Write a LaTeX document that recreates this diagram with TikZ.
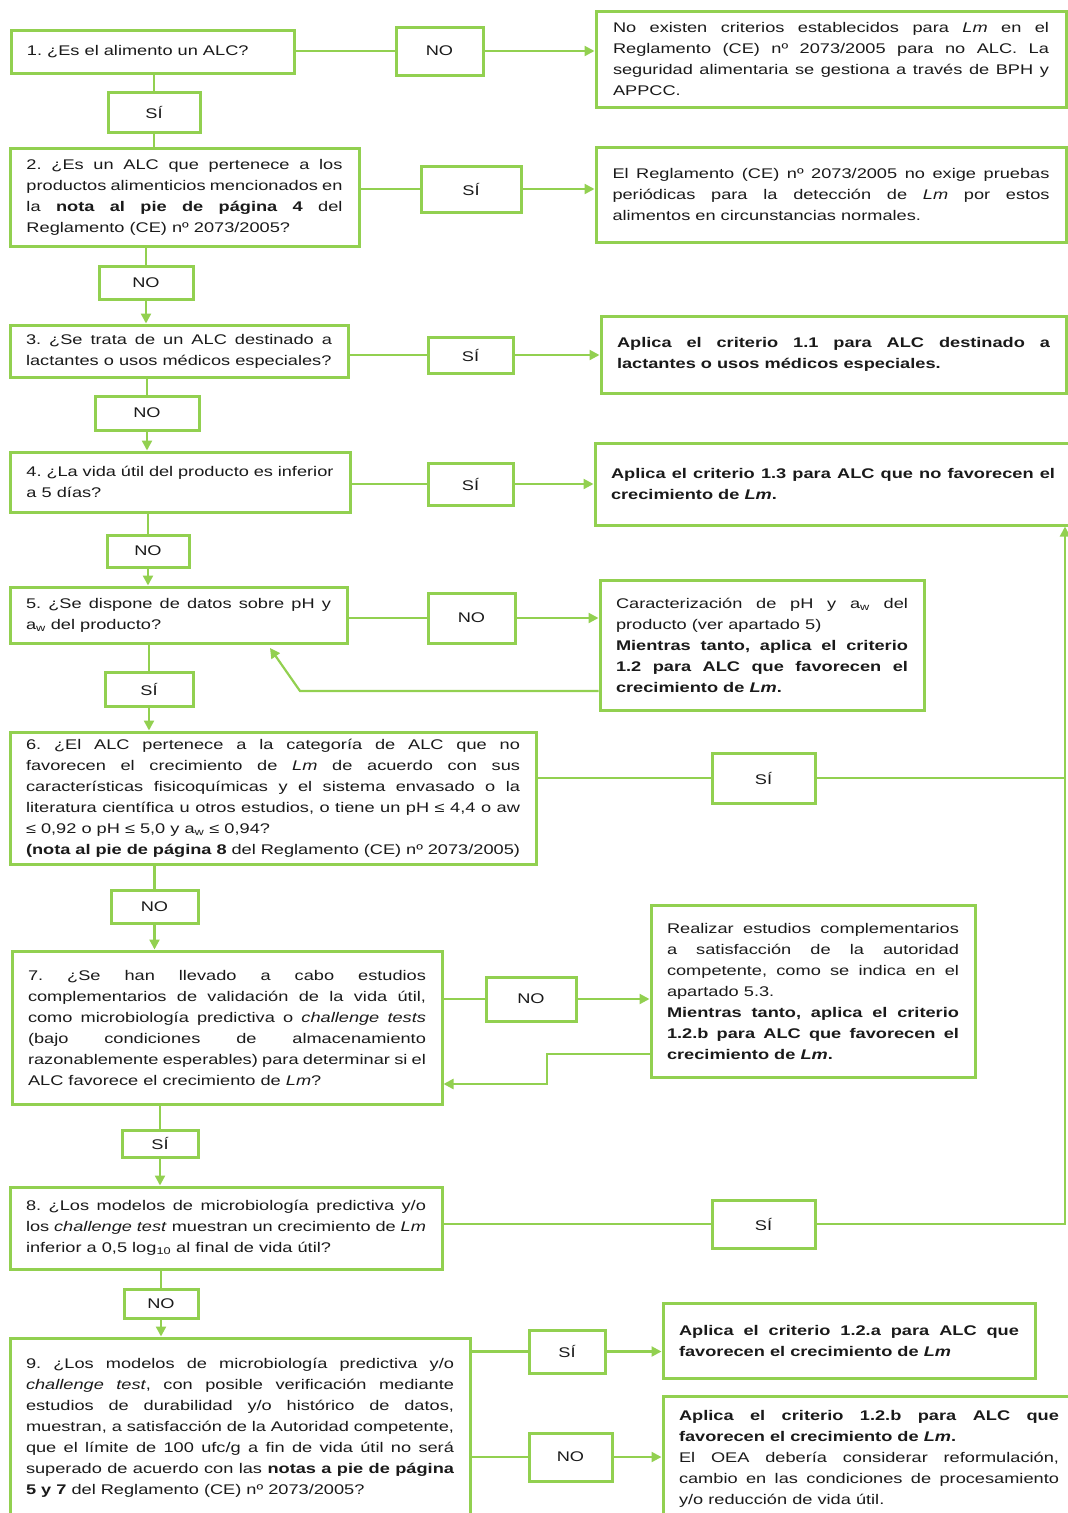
\documentclass[tikz,border=0pt]{standalone}
\usepackage{fontspec}
\setmainfont[FakeStretch=1.3]{Liberation Sans}
\usetikzlibrary{arrows.meta}
\definecolor{lg}{HTML}{92D050}
\definecolor{tx}{HTML}{1A1A1A}
\hyphenpenalty=10000
\exhyphenpenalty=10000
\tolerance=9999
\emergencystretch=20pt
\frenchspacing
\newcommand\fs{\fontsize{14}{21}\selectfont\frenchspacing\hyphenpenalty=10000\exhyphenpenalty=10000\tolerance=9999}
\tikzset{
  box/.style n args={3}{draw=lg, line width=3pt, fill=white, text=tx, inner sep=0pt,
    align=justify, font=\fs, minimum width=#1pt, minimum height=#2pt, text width=#3pt},
  lab/.style n args={2}{draw=lg, line width=3pt, fill=white, text=tx, inner sep=0pt,
    font=\fs, minimum width=#1pt, minimum height=#2pt},
  conn/.style={draw=lg, line width=2.2pt},
  arr/.style={conn, -{Triangle[length=10pt,width=10pt]}}
}
\begin{document}
\begin{tikzpicture}[x=1pt,y=-1pt]
\useasboundingbox (0,0) rectangle (1068,1513);
% ---------- question boxes ----------
\node[box={283}{43}{251}] (Q1) at (152.5,51.5) {1. ¿Es el alimento un ALC?};
\node[box={349}{98}{316}] (Q2) at (184.5,197) {2. ¿Es un ALC que pertenece a los productos alimenticios mencionados en la \textbf{nota al pie de página 4} del Reglamento (CE) nº 2073/2005?};
\node[box={338}{52}{306}] (Q3) at (179,351) {3. ¿Se trata de un ALC destinado a lactantes o usos médicos especiales?};
\node[box={340}{60}{307}] (Q4) at (180,482) {4. ¿La vida útil del producto es inferior a 5 días?};
\node[box={337}{56}{305}] (Q5) at (178.5,615) {5. ¿Se dispone de datos sobre pH y\linebreak a\textsubscript{w} del producto?};
\node[box={526}{132}{494}] (Q6) at (273,798) {6. ¿El ALC pertenece a la categoría de ALC que no\linebreak favorecen el crecimiento de \textit{Lm} de acuerdo con sus\linebreak características fisicoquímicas y el sistema envasado o la\linebreak literatura científica u otros estudios, o tiene un pH ≤ 4,4 o aw\linebreak ≤ 0,92 o pH ≤ 5,0 y a\textsubscript{w} ≤ 0,94?\par \textbf{(nota al pie de página 8} del Reglamento (CE) nº 2073/2005)};
\node[box={430}{153}{398}] (Q7) at (227,1027.5) {7. ¿Se han llevado a cabo estudios\linebreak complementarios de validación de la vida útil,\linebreak como microbiología predictiva o \textit{challenge tests}\linebreak (bajo condiciones de almacenamiento\linebreak razonablemente esperables) para determinar si el\linebreak ALC favorece el crecimiento de \textit{Lm}?};
\node[box={432}{82}{400}] (Q8) at (226,1228) {8. ¿Los modelos de microbiología predictiva y/o los \textit{challenge test} muestran un crecimiento de \textit{Lm} inferior a 0,5 log\textsubscript{10} al final de vida útil?};
\node[box={460}{180}{428}] (Q9) at (240,1428) {9. ¿Los modelos de microbiología predictiva y/o \textit{challenge test}, con posible verificación mediante estudios de durabilidad y/o histórico de datos, muestran, a satisfacción de la Autoridad competente, que el límite de 100 ufc/g a fin de vida útil no será superado de acuerdo con las \textbf{notas a pie de página 5 y 7} del Reglamento (CE) nº 2073/2005?};
% ---------- result boxes ----------
\node[box={470}{96}{436}] (R1) at (831,59) {No existen criterios establecidos para \textit{Lm} en el Reglamento (CE) nº 2073/2005 para no ALC. La seguridad alimentaria se gestiona a través de BPH y APPCC.};
\node[box={470}{95}{437}] (R2) at (831,194.5) {El Reglamento (CE) nº 2073/2005 no exige pruebas\linebreak periódicas para la detección de \textit{Lm} por estos\linebreak alimentos en circunstancias normales.};
\node[box={465}{77}{433}] (R3) at (833.5,354.5) {\textbf{Aplica el criterio 1.1 para ALC destinado a lactantes o usos médicos especiales.}};
\node[box={476}{82}{444}] (R4) at (833,484) {\textbf{Aplica el criterio 1.3 para ALC que no favorecen el crecimiento de \textit{Lm}.}};
\node[box={324}{130}{292}] (R5) at (762,645) {Caracterización de pH y a\textsubscript{w} del producto (ver apartado 5)\par \textbf{Mientras tanto, aplica el criterio 1.2 para ALC que favorecen el crecimiento de \textit{Lm}.}};
\node[box={324}{172}{292}] (R7) at (813,991) {Realizar estudios complementarios a satisfacción de la autoridad competente, como se indica en el apartado 5.3.\par \textbf{Mientras tanto, aplica el criterio 1.2.b para ALC que favorecen el crecimiento de \textit{Lm}.}};
\node[box={372}{75}{340}] (R9a) at (849,1340.5) {\textbf{Aplica el criterio 1.2.a para ALC que favorecen el crecimiento de \textit{Lm}}};
\node[box={412}{126}{380}] (R9b) at (869,1459) {\textbf{Aplica el criterio 1.2.b para ALC que favorecen el crecimiento de \textit{Lm}.}\par El OEA debería considerar reformulación, cambio en las condiciones de procesamiento y/o reducción de vida útil.};
% ---------- labels ----------
\node[lab={87}{48}] (NO1) at (439.5,51) {NO};
\node[lab={92}{40}] (SI1) at (154,112) {SÍ};
\node[lab={100}{46}] (SI2) at (471,189) {SÍ};
\node[lab={94}{33}] (NO2) at (146,282.5) {NO};
\node[lab={85}{36}] (SI3) at (470.5,355) {SÍ};
\node[lab={104}{34}] (NO3) at (147,413) {NO};
\node[lab={85}{42}] (SI4) at (470.5,484) {SÍ};
\node[lab={82}{32}] (NO4) at (148,551) {NO};
\node[lab={87}{50}] (NO5) at (471.5,618) {NO};
\node[lab={88}{34}] (SI5) at (149,689) {SÍ};
\node[lab={103}{50}] (SI6) at (763.5,778) {SÍ};
\node[lab={87}{33}] (NO6) at (154.5,906.5) {NO};
\node[lab={90}{44}] (NO7) at (531,999) {NO};
\node[lab={76}{27}] (SI7) at (160,1143.5) {SÍ};
\node[lab={103}{48}] (SI8) at (763.5,1224) {SÍ};
\node[lab={74}{29}] (NO8) at (161,1304) {NO};
\node[lab={76}{43}] (SI9) at (567,1351.5) {SÍ};
\node[lab={83}{48}] (NO9) at (570.5,1457) {NO};
% ---------- helper coordinates ----------
\coordinate (k5) at (300,691);
\coordinate (t5) at (270,648);
\coordinate (rv) at (1065,778);
\coordinate (k7a) at (547,1054);
\coordinate (k7b) at (547,1084);
% ---------- connectors ----------
\draw[conn] (Q1.east |- NO1.west) -- (NO1.west);
\draw[arr] (NO1.east) -- (NO1.east -| R1.west);
\draw[conn] (SI1.north) -- (SI1.north |- Q1.south);
\draw[conn] (SI1.south) -- (SI1.south |- Q2.north);
\draw[conn] (Q2.east |- SI2.west) -- (SI2.west);
\draw[arr] (SI2.east) -- (SI2.east -| R2.west);
\draw[conn] (NO2.north) -- (NO2.north |- Q2.south);
\draw[arr] (NO2.south) -- (NO2.south |- Q3.north);
\draw[conn] (Q3.east |- SI3.west) -- (SI3.west);
\draw[arr] (SI3.east) -- (SI3.east -| R3.west);
\draw[conn] (NO3.north) -- (NO3.north |- Q3.south);
\draw[arr] (NO3.south) -- (NO3.south |- Q4.north);
\draw[conn] (Q4.east |- SI4.west) -- (SI4.west);
\draw[arr] (SI4.east) -- (SI4.east -| R4.west);
\draw[conn] (NO4.north) -- (NO4.north |- Q4.south);
\draw[arr] (NO4.south) -- (NO4.south |- Q5.north);
\draw[conn] (Q5.east |- NO5.west) -- (NO5.west);
\draw[arr] (NO5.east) -- (NO5.east -| R5.west);
\draw[arr] (R5.west |- k5) -- (k5) -- (t5);
\draw[conn] (SI5.north) -- (SI5.north |- Q5.south);
\draw[arr] (SI5.south) -- (SI5.south |- Q6.north);
\draw[conn] (Q6.east |- SI6.west) -- (SI6.west);
\draw[arr] (SI6.east) -- (rv) -- (rv |- R4.south);
\draw[conn] (NO6.north) -- (NO6.north |- Q6.south);
\draw[arr] (NO6.south) -- (NO6.south |- Q7.north);
\draw[conn] (Q7.east |- NO7.west) -- (NO7.west);
\draw[arr] (NO7.east) -- (NO7.east -| R7.west);
\draw[arr] (R7.west |- k7a) -- (k7a) -- (k7b) -- (Q7.east |- k7b);
\draw[conn] (SI7.north) -- (SI7.north |- Q7.south);
\draw[arr] (SI7.south) -- (SI7.south |- Q8.north);
\draw[conn] (Q8.east |- SI8.west) -- (SI8.west);
\draw[conn] (SI8.east) -- (SI8.east -| rv) -- (rv);
\draw[conn] (NO8.north) -- (NO8.north |- Q8.south);
\draw[arr] (NO8.south) -- (NO8.south |- Q9.north);
\draw[conn] (Q9.east |- SI9.west) -- (SI9.west);
\draw[arr] (SI9.east) -- (SI9.east -| R9a.west);
\draw[conn] (Q9.east |- NO9.west) -- (NO9.west);
\draw[arr] (NO9.east) -- (NO9.east -| R9b.west);
\end{tikzpicture}
\end{document}
